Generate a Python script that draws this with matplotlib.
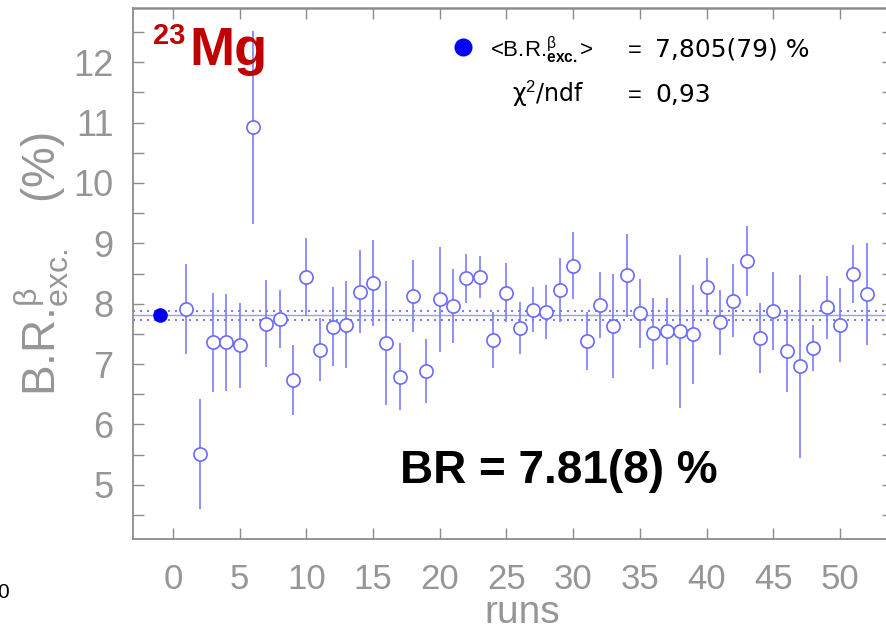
import matplotlib
matplotlib.use("Agg")
import matplotlib.pyplot as plt
from matplotlib import font_manager
from matplotlib.lines import Line2D
import numpy as np

# ---------------- data ----------------
runs = list(range(1, 53))
br_values = [7.91, 5.51, 7.36, 7.36, 7.31, 10.92, 7.67, 7.75, 6.73, 8.44,
             7.24, 7.62, 7.65, 8.20, 8.34, 7.35, 6.79, 8.13, 6.89, 8.07,
             7.96, 8.42, 8.44, 7.40, 8.18, 7.59, 7.90, 7.86, 8.22, 8.63,
             7.38, 7.98, 7.63, 8.47, 7.84, 7.51, 7.54, 7.54, 7.49, 8.27,
             7.69, 8.05, 8.70, 7.43, 7.88, 7.22, 6.96, 7.26, 7.94, 7.65,
             8.49, 8.16]
br_errors = [0.75, 0.91, 0.82, 0.80, 0.70, 1.60, 0.72, 0.48, 0.58, 0.65,
             0.52, 0.65, 0.72, 0.69, 0.71, 1.03, 0.55, 0.60, 0.53, 0.87,
             0.62, 0.41, 0.35, 0.46, 0.49, 0.43, 0.37, 0.45, 0.53, 0.56,
             0.48, 0.55, 0.87, 0.69, 0.57, 0.59, 0.55, 1.27, 0.82, 0.48,
             0.54, 0.60, 0.58, 0.58, 0.65, 0.68, 1.52, 0.38, 0.52, 0.61,
             0.48, 0.85]
mean_run = -1
mean_value = 7.805
mean_error = 0.079
x_ticks = list(range(0, 51, 5))
y_ticks = list(range(5, 13))

# ---------------- fonts ----------------
names = {f.name for f in font_manager.fontManager.ttflist}
narrow = "Liberation Sans Narrow" if "Liberation Sans Narrow" in names else "Liberation Sans"
plt.rcParams["font.family"] = ["Liberation Sans", "DejaVu Sans"]
plt.rcParams["mathtext.fontset"] = "custom"
plt.rcParams["mathtext.rm"] = "Liberation Sans"
plt.rcParams["mathtext.it"] = "Liberation Sans:italic"
plt.rcParams["mathtext.bf"] = "Liberation Sans:bold"

W, H = 887, 633
fig = plt.figure(figsize=(W / 100, H / 100), dpi=100)

def fx(x):
    return x / W

def fy(y):
    return 1 - y / H

# axes: left spine 133px, right spine ~893px (beyond figure), bottom 539, top 8
ax = fig.add_axes([fx(133), fy(539), (893.3 - 133) / W, (539 - 8) / H])
ax.set_xlim(-3, 54)
ax.set_ylim(4.1, 12.9)

gray = "#8c8c8c"
label_gray = "#969696"
line_blue = "#7b7bff"

# mean line and band
ax.axhline(mean_value, color="#9a9aff", lw=1.0, zorder=1)
ax.axhline(mean_value - mean_error, color="#6060ff", lw=1.2, ls=(0, (1.2, 3)), zorder=1)
ax.axhline(mean_value + mean_error, color="#6060ff", lw=1.2, ls=(0, (1.2, 3)), zorder=1)

# data points
ax.errorbar(runs, br_values, yerr=br_errors, fmt="o", ms=9.5, mfc="white",
            mec="#6a6aff", mew=1.2, ecolor=line_blue, elinewidth=1.2,
            capsize=0, zorder=3)
ax.plot([mean_run], [mean_value], "o", ms=9.5, color="#0000ee", zorder=4)

# spines and ticks
for s in ax.spines.values():
    s.set_color(gray)
    s.set_linewidth(1.3)
ax.spines["top"].set_linewidth(1.8)

ax.set_xticks(x_ticks)
ax.set_xticklabels([str(t) for t in x_ticks])
ax.set_yticks(y_ticks)
ax.set_yticklabels([str(t) for t in y_ticks])
ax.set_yticks(np.arange(4.5, 12.6, 1.0), minor=True)
ax.tick_params(axis="both", which="both", direction="in", color=gray,
               top=True, right=True, width=1.0)
ax.tick_params(axis="x", which="major", length=8, pad=17,
               labelsize=25, labelcolor=label_gray)
ax.tick_params(axis="y", which="major", length=8, pad=14,
               labelsize=26, labelcolor=label_gray)
ax.tick_params(axis="y", which="minor", length=8)
for lab in ax.get_xticklabels() + ax.get_yticklabels():
    lab.set_family(narrow)

# axis labels
fig.text(fx(522), fy(623), "runs", family=narrow, fontsize=28, color=label_gray,
         ha="center", va="baseline")
fig.text(fx(42), fy(264), r"B.R.$^{\mathrm{\beta}}_{\mathrm{exc.}}$   (%)", fontsize=33,
         color=label_gray, rotation=90, ha="center", va="center")

# title / annotations
fig.text(fx(153), fy(44), "23", fontsize=21, fontweight="bold",
         color="#c00000", ha="left", va="baseline")
fig.text(fx(189), fy(65), "Mg", fontsize=39, fontweight="bold",
         color="#c00000", ha="left", va="baseline")

fig.text(fx(400), fy(483), "BR = 7.81(8) %", fontsize=33, fontweight="bold",
         color="black", ha="left", va="baseline")

# legend-like box
fig.add_artist(Line2D([fx(463)], [fy(47)], marker="o", ms=12, color="#0000ff",
                      linestyle="none", transform=fig.transFigure))
fig.text(fx(490), fy(57), r"<B.R.$^{\mathrm{\beta}}_{\mathbf{exc.}}$>", fontsize=16,
         color="black", ha="left", va="baseline")
fig.text(fx(635), fy(57), "=", fontsize=17, color="black", ha="center", va="baseline")
fig.text(fx(655), fy(57), "7,805(79) %", fontsize=18, color="black",
         family="DejaVu Sans", ha="left", va="baseline")
fig.text(fx(512), fy(102), r"χ$^{2}$/ndf", fontsize=17, color="black",
         family="DejaVu Sans", ha="left", va="baseline")
fig.text(fx(635), fy(102), "=", fontsize=17, color="black", ha="center", va="baseline")
fig.text(fx(655), fy(102), "0,93", fontsize=18, color="black",
         family="DejaVu Sans", ha="left", va="baseline")

# stray label at lower-left edge
fig.text(fx(3), fy(598), "0", fontsize=15, color="black", ha="center", va="baseline")

fig.savefig("out.png", dpi=100)
